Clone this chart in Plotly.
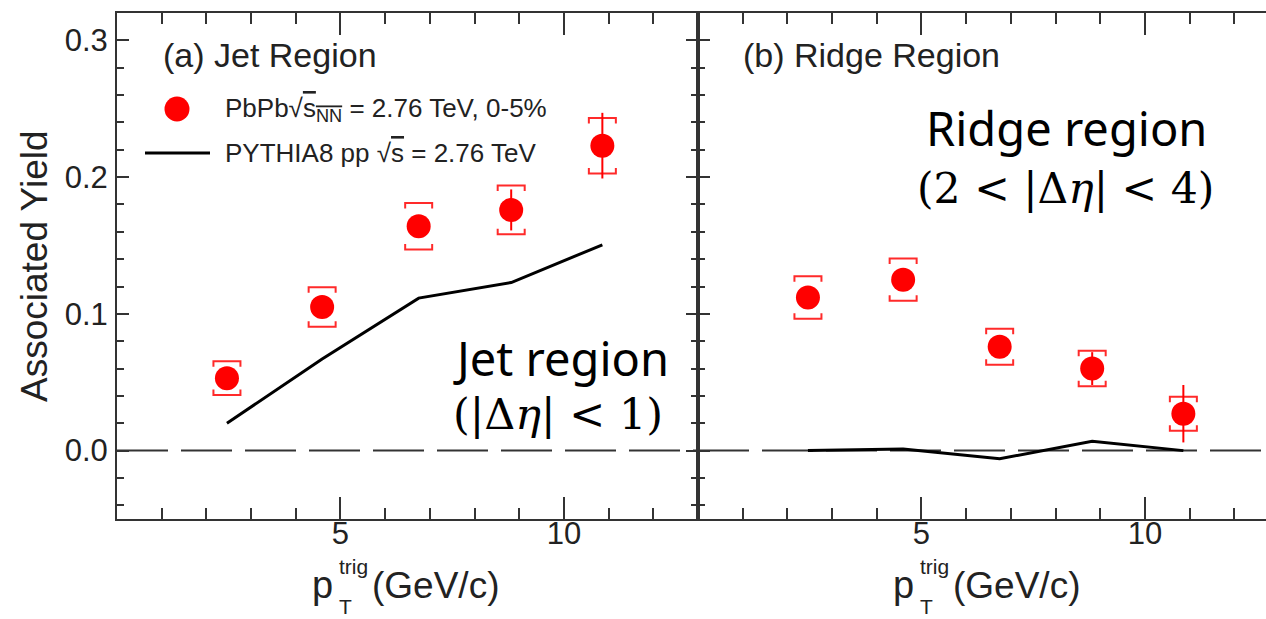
import plotly.graph_objects as go

# ---------------- data ----------------
pt_trig = [2.46, 4.59, 6.75, 8.82, 10.86]

jet_yield = [0.053, 0.105, 0.164, 0.176, 0.223]
jet_stat = [0.006, 0.007, 0.008, 0.015, 0.024]
jet_sys = [0.0124, 0.0144, 0.0170, 0.0178, 0.0203]
jet_pythia = [0.020, 0.067, 0.1115, 0.1229, 0.1505]

ridge_yield = [0.112, 0.125, 0.076, 0.060, 0.027]
ridge_stat = [0.006, 0.006, 0.006, 0.012, 0.021]
ridge_sys = [0.0155, 0.0154, 0.0132, 0.0130, 0.0124]
ridge_pythia = [0.0, 0.0012, -0.006, 0.0069, 0.0]

y_tick_vals = [0.0, 0.1, 0.2, 0.3]
y_tick_text = ["0.0", "0.1", "0.2", "0.3"]
x_tick_vals = [5, 10]
x_tick_text = ["5", "10"]
zero_level = 0.0

# ---------------- layout geometry ----------------
W, H = 1266, 619
ML, MT, MB = 117, 13, 100
PW = W - ML
PH = H - MT - MB
panel_px = 581
d = panel_px / PW
x_range = [0, 13]
x2_range = [0, 13 * (PW - panel_px) / panel_px]
y_range = [-0.05, 0.32]

px_per_x = panel_px / (x_range[1] - x_range[0])
px_per_y = PH / (y_range[1] - y_range[0])
hw = 13.5 / px_per_x
leg = 5.5 / px_per_y

RED = "#ff0000"
BRK = "#ff2a2a"
AX = "#333333"
TXT = "#222222"
SANS = "Liberation Sans, Arial, sans-serif"


def brackets(x, y, e):
    xs, ys = [], []
    for xi, yi, ei in zip(x, y, e):
        for s in (1, -1):
            yc = yi + s * ei
            xs += [xi - hw, xi - hw, xi + hw, xi + hw, None]
            ys += [yc - s * leg, yc, yc, yc - s * leg, None]
    return xs, ys


fig = go.Figure()

for xa, ya, yv, st, sy, pyv in [("x", "y", jet_yield, jet_stat, jet_sys, jet_pythia),
                                ("x2", "y2", ridge_yield, ridge_stat, ridge_sys, ridge_pythia)]:
    fig.add_trace(go.Scatter(x=pt_trig, y=pyv, mode="lines", xaxis=xa, yaxis=ya,
                             line=dict(color="black", width=3),
                             name="PYTHIA8 pp √s = 2.76 TeV", showlegend=False))
    bx, by = brackets(pt_trig, yv, sy)
    fig.add_trace(go.Scatter(x=bx, y=by, mode="lines", xaxis=xa, yaxis=ya,
                             line=dict(color=BRK, width=2), showlegend=False,
                             hoverinfo="skip"))
    fig.add_trace(go.Scatter(x=pt_trig, y=yv, mode="markers", xaxis=xa, yaxis=ya,
                             marker=dict(color=RED, size=24, symbol="circle"),
                             error_y=dict(type="data", array=st, color=RED,
                                          thickness=2, width=0),
                             name="PbPb √sNN = 2.76 TeV, 0-5%", showlegend=False))
    fig.add_shape(type="line", xref=xa + " domain", yref=ya, x0=0, x1=1,
                  y0=zero_level, y1=zero_level, layer="below",
                  line=dict(color=AX, width=2, dash="51px,13px"))

axis_common = dict(showline=True, linecolor=AX, linewidth=2, ticks="inside",
                   tickcolor=AX, tickwidth=2, showgrid=False, zeroline=False,
                   tickfont=dict(family=SANS, size=31, color=TXT))

xminor = dict(tickmode="linear", tick0=0, dtick=1, ticklen=11,
              ticks="inside", tickcolor=AX, tickwidth=2)
yminor = dict(tickmode="linear", tick0=0, dtick=0.02, ticklen=7,
              ticks="inside", tickcolor=AX, tickwidth=2)

fig.update_layout(
    width=W, height=H,
    margin=dict(l=ML, r=0, t=MT, b=MB),
    plot_bgcolor="white", paper_bgcolor="white",
    showlegend=False,
    xaxis=dict(domain=[0, d], range=x_range, anchor="y", mirror="allticks",
               tickmode="array", tickvals=x_tick_vals, ticktext=x_tick_text,
               ticklen=22, ticklabelstandoff=-14, minor=xminor, **axis_common),
    xaxis2=dict(domain=[d, 1], range=x2_range, anchor="y2", mirror="allticks",
                tickmode="array", tickvals=x_tick_vals, ticktext=x_tick_text,
                ticklen=22, ticklabelstandoff=-14, minor=xminor, **axis_common),
    yaxis=dict(domain=[0, 1], range=y_range, anchor="x", mirror="allticks",
               tickmode="array", tickvals=y_tick_vals, ticktext=y_tick_text,
               ticklen=12, ticklabelstandoff=1, minor=yminor, **axis_common),
    yaxis2=dict(domain=[0, 1], range=y_range, anchor="x2", mirror=False,
                tickmode="array", tickvals=y_tick_vals, ticktext=y_tick_text,
                ticklen=12, showticklabels=False, minor=yminor, **axis_common),
)


def px(xp):
    return (xp - ML) / PW


def py_(yp):
    return (H - MB - yp) / PH


ann = []


def text(t, x, y, size, family=SANS, xanchor="left", color=TXT, angle=0):
    ann.append(dict(text=t, x=px(x), y=py_(y), xref="paper", yref="paper",
                    xanchor=xanchor, yanchor="middle", showarrow=False,
                    textangle=angle, font=dict(family=family, size=size, color=color)))


# y title
text("Associated Yield", 34, 266, 37, xanchor="center", angle=-90)

# x titles (stacked sub/superscript)
for L in (ML, ML + panel_px):
    text("p", L + 218, 585, 38, xanchor="right")
    text("trig", L + 220, 566, 21)
    text("T", L + 220, 606, 21)
    text("(GeV/c)", L + 253, 585, 37)

# panel labels
text("(a) Jet Region", 161, 55, 34)
text("(b) Ridge Region", 741, 55, 34)

# legend
text("PbPb√<span style='text-decoration:overline'>s<sub>NN</sub></span> = 2.76 TeV, 0-5%", 223, 109, 26)
text("PYTHIA8 pp √<span style='text-decoration:overline'>s</span> = 2.76 TeV", 223, 153, 26)

# region notes
text("Jet region", 561, 358, 47, family="Noto Sans, sans-serif", xanchor="center", color="black")
text("(|Δ<i>η</i>| &lt; 1)", 558, 414, 43, family="DejaVu Serif, serif", xanchor="center", color="black")
text("Ridge region", 1066, 128, 47, family="Noto Sans, sans-serif", xanchor="center", color="black")
text("(2 &lt; |Δ<i>η</i>| &lt; 4)", 1065, 188, 42.5, family="DejaVu Serif, serif", xanchor="center", color="black")

fig.update_layout(annotations=ann)

# legend symbols
fig.add_shape(type="circle", xref="paper", yref="paper",
              x0=px(177 - 12.5), x1=px(177 + 12.5), y0=py_(109 + 12.5), y1=py_(109 - 12.5),
              fillcolor=RED, line=dict(width=0))
fig.add_shape(type="line", xref="paper", yref="paper",
              x0=px(145), x1=px(210), y0=py_(153), y1=py_(153),
              line=dict(color="black", width=3))

fig.write_html("out.html")
